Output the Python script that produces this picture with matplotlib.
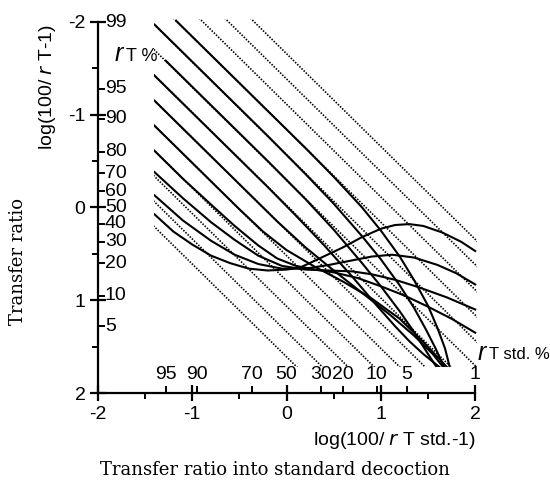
import numpy as np
import matplotlib.pyplot as plt
from matplotlib.patches import Rectangle

plt.rcParams['font.family'] = ['Liberation Sans', 'DejaVu Sans']

# dotted reference lines: y = x + c
dot_c = [-1.656, -1.384, -1.112, -0.84, -0.567, -0.295, -0.023,
         0.25, 0.52, 0.79, 1.066, 1.34, 1.61]

# solid curves
curve_x = [
    [-1.17, -0.6, -0.2, 0.2, 0.5, 0.8, 1.0, 1.2, 1.35, 1.5, 1.6, 1.68, 1.73],
    [-1.40, -0.6, -0.2, 0.2, 0.5, 0.8, 1.0, 1.2, 1.35, 1.48, 1.58, 1.67],
    [-1.28, -0.6, -0.2, 0.2, 0.5, 0.8, 1.0, 1.2, 1.35, 1.5, 1.59],
    [-1.40, -0.6, -0.2, 0.1, 0.4, 0.7, 0.95, 1.15, 1.3, 1.45, 1.62],
    [-1.40, -0.8, -0.4, -0.1, 0.2, 0.5, 0.8, 1.1, 1.35, 1.55, 1.66],
    [-1.40, -0.8, -0.5, -0.25, 0.0, 0.3, 0.6, 0.9, 1.2, 1.45, 1.70],
    [-1.40, -1.1, -0.8, -0.55, -0.3, -0.1, 0.1, 0.3, 0.5, 0.75, 1.0, 1.25,
     1.5, 1.75, 2.0],
    [-1.40, -1.1, -0.8, -0.55, -0.3, -0.05, 0.2, 0.45, 0.7, 0.9, 1.15, 1.4,
     1.7, 2.0],
    [-1.40, -1.1, -0.8, -0.55, -0.3, -0.05, 0.2, 0.45, 0.7, 0.9, 1.12, 1.35,
     1.6, 1.8, 2.0],
    [-1.40, -1.2, -1.0, -0.8, -0.6, -0.4, -0.2, 0.0, 0.14, 0.35, 0.6, 0.8,
     1.0, 1.15, 1.3, 1.45, 1.65, 1.85, 2.0],
]
curve_y = [
    [-2.01, -1.44, -1.04, -0.64, -0.33, 0.00, 0.25, 0.53, 0.78, 1.06, 1.30,
     1.52, 1.72],
    [-1.97, -1.17, -0.77, -0.36, -0.04, 0.31, 0.56, 0.84, 1.08, 1.32, 1.52,
     1.72],
    [-1.58, -0.90, -0.50, -0.09, 0.24, 0.60, 0.85, 1.12, 1.34, 1.58, 1.72],
    [-1.42, -0.62, -0.22, 0.09, 0.41, 0.75, 1.05, 1.28, 1.44, 1.58, 1.72],
    [-1.15, -0.55, -0.15, 0.15, 0.43, 0.68, 0.92, 1.16, 1.38, 1.58, 1.72],
    [-0.88, -0.28, 0.02, 0.26, 0.46, 0.64, 0.80, 0.98, 1.20, 1.45, 1.72],
    [-0.61, -0.31, -0.03, 0.20, 0.41, 0.55, 0.63, 0.67, 0.70, 0.76, 0.85,
     0.95, 1.07, 1.20, 1.35],
    [-0.38, -0.10, 0.16, 0.35, 0.52, 0.63, 0.67, 0.68, 0.69, 0.72, 0.78,
     0.86, 0.97, 1.10],
    [-0.13, 0.14, 0.36, 0.51, 0.61, 0.66, 0.66, 0.62, 0.57, 0.53, 0.51, 0.54,
     0.62, 0.71, 0.83],
    [0.075, 0.26, 0.40, 0.52, 0.60, 0.66, 0.68, 0.67, 0.65, 0.55, 0.43, 0.32,
     0.23, 0.19, 0.18, 0.20, 0.27, 0.37, 0.47],
]

# inner scale labels
rt_labels = [99, 95, 90, 80, 70, 60, 50, 40, 30, 20, 10, 5]
rstd_labels = [95, 90, 70, 50, 30, 20, 10, 5, 1]


def logit(r):
    return np.log10(100.0 / r - 1.0)


fig = plt.figure(figsize=(5.5, 4.84), dpi=100)
ax = fig.add_axes([0.178, 0.188, 0.686, 0.767])

xs = np.array([-2.5, 2.5])
for c in dot_c:
    ax.plot(xs, xs + c, color='black', lw=1.2, ls=(0, (0.9, 0.9)))

for cx, cy in zip(curve_x, curve_y):
    ax.plot(cx, cy, color='black', lw=1.5, solid_joinstyle='round')

ax.set_xlim(-2, 2)
ax.set_ylim(2, -2)

clip = Rectangle((-1.40, -2.03), 3.42, 3.75, transform=ax.transData)
for ln in ax.lines:
    ln.set_clip_path(clip)

for s in ['top', 'right']:
    ax.spines[s].set_visible(False)
ax.spines['left'].set_linewidth(1.6)
ax.spines['bottom'].set_linewidth(1.6)

ax.set_xticks([-2, -1, 0, 1, 2])
ax.set_yticks([-2, -1, 0, 1, 2])
ax.set_xticklabels(['-2', '-1', '0', '1', '2'])
ax.set_yticklabels(['-2', '-1', '0', '1', '2'])
ax.set_xticks([-1.5, -0.5, 0.5, 1.5], minor=True)
ax.set_yticks([-1.5, -0.5, 0.5, 1.5], minor=True)
ax.tick_params(which='major', direction='inout', length=11, width=1.6,
               labelsize=14)
ax.tick_params(which='minor', direction='out', length=4, width=1.4)

# inner r_T % scale
for r in rt_labels:
    y = logit(r)
    ax.plot([-2, -1.94], [y, y], color='black', lw=1.4, clip_on=False)
    ax.text(-1.925, y, str(r), ha='left', va='center', fontsize=14)

# inner r_T std. % scale
for r in rstd_labels:
    x = logit(r)
    ax.plot([x, x], [2, 1.93], color='black', lw=1.4, clip_on=False)
    ax.text(x, 1.89, str(r), ha='center', va='bottom', fontsize=14)

ax.text(-1.82, -1.65, 'r', style='italic', fontsize=18, ha='left',
        va='center')
ax.text(-1.70, -1.63, 'T %', fontsize=13, ha='left', va='center')
ax.text(2.03, 1.57, 'r', style='italic', fontsize=18, ha='left',
        va='center')
ax.text(2.15, 1.59, 'T std. %', fontsize=12, ha='left', va='center')

fig.text(0.087, 0.82, 'log(100/ $\\mathit{r}$ T-1)', rotation=90,
         ha='center', va='center', fontsize=14)
fig.text(0.033, 0.46, 'Transfer ratio', rotation=90, ha='center',
         va='center', fontsize=13, family='DejaVu Serif')
fig.text(0.865, 0.09, 'log(100/ $\\mathit{r}$ T std.-1)', ha='right',
         va='center', fontsize=14)
fig.text(0.5, 0.028, 'Transfer ratio into standard decoction', ha='center',
         va='center', fontsize=13, family='DejaVu Serif')

fig.savefig('out.png', dpi=100)
